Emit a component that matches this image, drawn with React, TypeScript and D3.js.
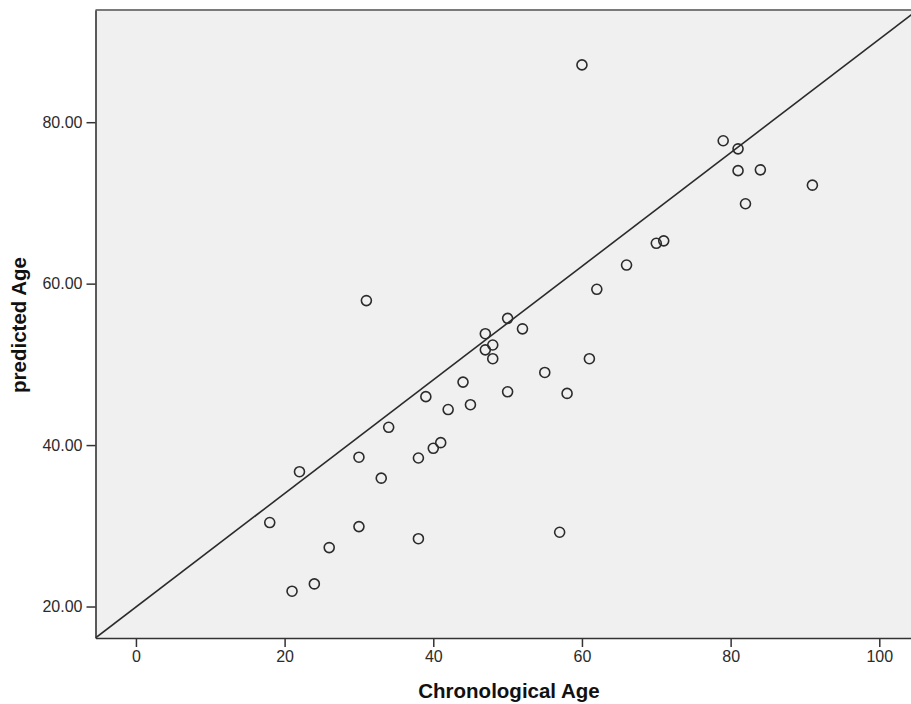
import React, { useEffect, useRef } from "react";
import * as d3 from "d3";

// chronological age vs predicted age
const chronoAge = [
    60, 79, 81, 81, 84, 91, 82, 70, 71, 66,
    62, 31, 50, 47, 52, 48, 47, 48, 61, 55,
    44, 39, 50, 58, 45, 42, 34, 41, 40, 30,
    38, 22, 33, 18, 30, 38, 57, 26, 24, 21,
];
const predictedAge = [
    87.1, 77.7, 76.7, 74.0, 74.1, 72.2, 69.9, 65.0, 65.3, 62.3,
    59.3, 57.9, 55.7, 53.8, 54.4, 52.4, 51.8, 50.7, 50.7, 49.0,
    47.8, 46.0, 46.6, 46.4, 45.0, 44.4, 42.2, 40.3, 39.6, 38.5,
    38.4, 36.7, 35.9, 30.4, 29.9, 28.4, 29.2, 27.3, 22.8, 21.9,
];
const xTicks = [0, 20, 40, 60, 80, 100];
const yTicks = [20, 40, 60, 80];
const xDomain = [-5.44, 104.4];
const yDomain = [16.1, 93.9];
const fitIntercept = 19.93;
const fitSlope = 0.7036;

const width = 911;
const height = 704;
const plot = { left: 95.5, top: 10, right: 912, bottom: 638 };

const App = () => {
    const svgRef = useRef<SVGSVGElement>(null);

    useEffect(() => {
        const svg = d3.select(svgRef.current);
        svg.selectAll("*").remove();

        const x = d3.scaleLinear().domain(xDomain).range([plot.left, plot.right]);
        const y = d3.scaleLinear().domain(yDomain).range([plot.bottom, plot.top]);

        svg.append("rect")
            .attr("x", plot.left)
            .attr("y", plot.top)
            .attr("width", plot.right - plot.left)
            .attr("height", plot.bottom - plot.top)
            .attr("fill", "#f0f0f0");

        svg.append("clipPath")
            .attr("id", "plotClip")
            .append("rect")
            .attr("x", plot.left)
            .attr("y", plot.top)
            .attr("width", plot.right - plot.left)
            .attr("height", plot.bottom - plot.top);

        // fit line
        const fitLine = d3
            .line<number>()
            .x((d) => x(d))
            .y((d) => y(fitIntercept + fitSlope * d));
        svg.append("path")
            .datum(xDomain)
            .attr("d", fitLine)
            .attr("clip-path", "url(#plotClip)")
            .attr("fill", "none")
            .attr("stroke", "#2b2b2b")
            .attr("stroke-width", 1.6);

        // points
        svg.append("g")
            .selectAll("circle")
            .data(chronoAge.map((c, i) => [c, predictedAge[i]]))
            .enter()
            .append("circle")
            .attr("cx", (d) => x(d[0]))
            .attr("cy", (d) => y(d[1]))
            .attr("r", 5)
            .attr("fill", "none")
            .attr("stroke", "#2b2b2b")
            .attr("stroke-width", 1.6);

        // frame
        svg.append("line")
            .attr("x1", plot.left).attr("x2", plot.right)
            .attr("y1", plot.top).attr("y2", plot.top)
            .attr("stroke", "#7a7a7a").attr("stroke-width", 2);

        const xAxis = d3
            .axisBottom(x)
            .tickValues(xTicks)
            .tickSizeInner(9)
            .tickSizeOuter(0)
            .tickPadding(4)
            .tickFormat(d3.format("d"));
        const gx = svg.append("g")
            .attr("transform", `translate(0,${plot.bottom})`)
            .call(xAxis);

        const yAxis = d3
            .axisLeft(y)
            .tickValues(yTicks)
            .tickSizeInner(9)
            .tickSizeOuter(0)
            .tickPadding(4)
            .tickFormat(d3.format(".2f"));
        const gy = svg.append("g")
            .attr("transform", `translate(${plot.left},0)`)
            .call(yAxis);

        [gx, gy].forEach((g) => {
            g.select(".domain").attr("stroke", "#333").attr("stroke-width", 1.6);
            g.selectAll(".tick line").attr("stroke", "#333").attr("stroke-width", 1.5);
            g.selectAll(".tick text")
                .attr("fill", "#2b2b2b")
                .style("font-family", "'Liberation Sans', Arial, sans-serif")
                .style("font-size", "16px");
        });

        svg.append("text")
            .attr("x", 509)
            .attr("y", 698)
            .attr("text-anchor", "middle")
            .style("font-family", "'Liberation Sans', Arial, sans-serif")
            .style("font-weight", "bold")
            .style("font-size", "20.5px")
            .attr("fill", "#111")
            .text("Chronological Age");

        svg.append("text")
            .attr("transform", "translate(26,325) rotate(-90)")
            .attr("text-anchor", "middle")
            .style("font-family", "'Liberation Sans', Arial, sans-serif")
            .style("font-weight", "bold")
            .style("font-size", "20.5px")
            .attr("fill", "#111")
            .text("predicted Age");
    });

    return (
        <svg
            ref={svgRef}
            width={width}
            height={height}
            style={{ position: "absolute", left: 0, top: 0, background: "#fff" }}
        />
    );
};

export default App;
